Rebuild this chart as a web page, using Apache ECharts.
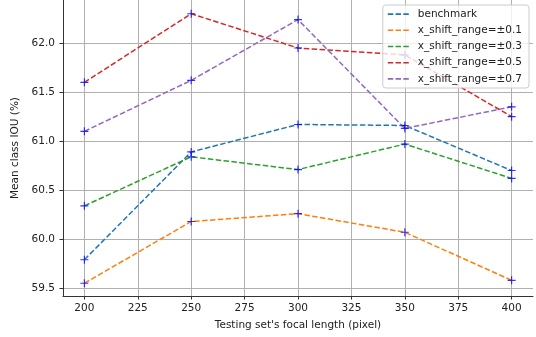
<!DOCTYPE html>
<html>
<head>
<meta charset="utf-8">
<script src="https://cdn.jsdelivr.net/npm/echarts@6/dist/echarts.min.js"></script>
<style>
  html, body { margin: 0; padding: 0; background: #fff; }
  #chart { width: 536px; height: 337px; }
</style>
</head>
<body>
<div id="chart"></div>
<script>
  // focal lengths used at test time
  var focal = [200, 250, 300, 350, 400];

  var seriesNames = ['benchmark', 'x_shift_range=\u00b10.1', 'x_shift_range=\u00b10.3',
                     'x_shift_range=\u00b10.5', 'x_shift_range=\u00b10.7'];
  var benchmark = [59.79, 60.89, 61.17, 61.16, 60.70];
  var shift01 = [59.55, 60.18, 60.26, 60.07, 59.58];
  var shift03 = [60.34, 60.84, 60.71, 60.97, 60.62];
  var shift05 = [61.60, 62.30, 61.95, 61.88, 61.25];
  var shift07 = [61.10, 61.62, 62.24, 61.13, 61.35];

  var xTicks = [200, 225, 250, 275, 300, 325, 350, 375, 400];
  var yTicks = [59.5, 60.0, 60.5, 61.0, 61.5, 62.0];

  var colors = ['#1f77b4', '#ff7f0e', '#2ca02c', '#d62728', '#9467bd'];
  var allValues = [benchmark, shift01, shift03, shift05, shift07];

  var plusIcon = 'path://M3,0h1v3h3v1h-3v3h-1v-3h-3v-1h3z';
  var dashIcon = 'path://M0,0h5.5v1.6h-5.5zM7.8,0h5.5v1.6h-5.5zM15.6,0h5.5v1.6h-5.5z';

  function pairs(vals) {
    return vals.map(function (v, i) { return [focal[i], v]; });
  }

  var series = [];
  allValues.forEach(function (vals, i) {
    series.push({
      name: seriesNames[i],
      type: 'line',
      data: pairs(vals),
      symbol: 'none',
      color: colors[i],
      lineStyle: { color: colors[i], width: 1.5, type: [5.5, 2.4] },
      silent: true,
      animation: false,
      z: 2
    });
  });
  allValues.forEach(function (vals) {
    series.push({
      type: 'scatter',
      data: pairs(vals),
      symbol: plusIcon,
      symbolSize: 8,
      itemStyle: { color: '#0000ff' },
      silent: true,
      animation: false,
      z: 3
    });
  });

  var chart = echarts.init(document.getElementById('chart'), null, { renderer: 'canvas' });
  chart.setOption({
    animation: false,
    textStyle: { fontFamily: 'DejaVu Sans' },
    grid: { left: 63, right: 3, top: -1, bottom: 41, containLabel: false },
    legend: {
      data: seriesNames,
      orient: 'vertical',
      right: 7,
      top: 5,
      icon: dashIcon,
      itemWidth: 21,
      itemHeight: 2,
      itemGap: 4,
      padding: [3, 7, 3, 5],
      backgroundColor: 'rgba(255,255,255,0.8)',
      borderColor: '#cccccc',
      borderWidth: 1,
      borderRadius: 3,
      textStyle: { fontSize: 10.5, color: '#222', fontFamily: 'DejaVu Sans', lineHeight: 12.2, padding: [0, 0, 0, 4] }
    },
    xAxis: {
      type: 'value',
      min: 190,
      max: 410,
      name: "Testing set's focal length (pixel)",
      nameLocation: 'middle',
      nameGap: 24,
      nameTextStyle: { fontSize: 10.5, color: '#222', fontFamily: 'DejaVu Sans' },
      axisLine: { show: true, lineStyle: { color: '#333', width: 1 } },
      axisTick: { show: true, length: 3.5, customValues: xTicks, lineStyle: { color: '#333' } },
      axisLabel: { customValues: xTicks, margin: 7, fontSize: 10.5, color: '#222', fontFamily: 'DejaVu Sans' },
      splitLine: { show: true, lineStyle: { color: '#b0b0b0', width: 1 } }
    },
    yAxis: {
      type: 'value',
      min: 59.42,
      max: 62.44,
      name: 'Mean class IOU (%)',
      nameLocation: 'middle',
      nameGap: 31,
      nameTextStyle: { fontSize: 10.5, color: '#222', fontFamily: 'DejaVu Sans' },
      axisLine: { show: true, lineStyle: { color: '#333', width: 1 } },
      axisTick: { show: true, length: 3.5, customValues: yTicks, lineStyle: { color: '#333' } },
      axisLabel: {
        customValues: yTicks, margin: 8, fontSize: 10.5, color: '#222', fontFamily: 'DejaVu Sans',
        formatter: function (v) { return v.toFixed(1); }
      },
      splitLine: { show: true, lineStyle: { color: '#b0b0b0', width: 1 } }
    },
    series: series
  });
</script>
</body>
</html>
